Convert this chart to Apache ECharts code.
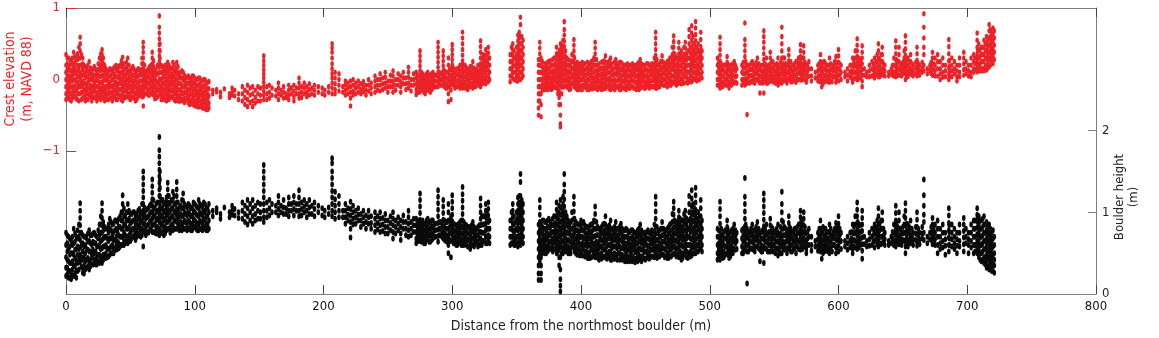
<!DOCTYPE html>
<html><head><meta charset="utf-8">
<script src="https://cdn.jsdelivr.net/npm/echarts@6/dist/echarts.min.js"></script>
<style>html,body{margin:0;padding:0;background:#fff}#c{width:1159px;height:338px}</style>
</head><body><div id="c"></div>
<script>
// Each row: [distance (m), value, value, ...]
const redA = [
[0,.35,.2,.1,0,-.1,-.2,-.28],[2,.3,.15,.05,-.05,-.15,-.25],[4,.25,.12,0,-.1,-.2,-.3],[6,.38,.2,.1,0,-.12,-.22],[8,.3,.1,-.02,-.15,-.27],
[10,.45,.3,.15,.05,-.08,-.2,-.3],[11,.59,.5,.4,.3,.2,.1,0,-.1,-.2],[12,.35,.2,.05,-.05,-.18,-.28],[14,.2,.08,-.05,-.15,-.25],[16,.15,.05,-.08,-.18,-.28],
[18,.25,.1,0,-.12,-.22],[20,.12,.02,-.1,-.2,-.3],[22,.18,.05,-.05,-.15,-.25],[24,.1,0,-.1,-.2,-.3],[26,.3,.15,.05,-.05,-.15,-.25],
[28,.42,.35,.25,.15,.05,-.05,-.15,-.25],[30,.2,.1,0,-.12,-.22,-.3],[32,.1,0,-.1,-.2,-.28],[34,.15,.05,-.08,-.18,-.26],[36,.12,0,-.1,-.2,-.3],
[38,.18,.05,-.05,-.15,-.25],[40,.15,.03,-.08,-.18,-.28],[42,.2,.08,-.04,-.14,-.24],[44,.31,.2,.1,0,-.1,-.2,-.3],[46,.15,.05,-.05,-.15,-.25],
[48,.3,.2,.1,0,-.1,-.2],[50,.12,0,-.1,-.2,-.28],[52,.18,.05,-.05,-.15,-.25],[54,.1,0,-.1,-.2,-.3],[56,.15,.05,-.05,-.15,-.24],[58,.1,-.02,-.12,-.22],
[60,.52,.45,.38,.3,.22,.15,.08,0,-.08,-.16,-.24,-.37],[62,.1,0,-.1,-.2],[64,.15,.05,-.05,-.15,-.22],[66,.2,.1,0,-.1,-.2],
[67,.38,.3,.22,.14,.06,-.02,-.1,-.18],[69,.1,0,-.1,-.2,-.27],[71,.2,.08,-.04,-.14,-.24],
[72.5,.89,.73,.65,.57,.49,.41,.33,.25,.17,.09,.01,-.07,-.15,-.22],[74,.2,.1,0,-.1,-.2,-.28],[76,.15,.05,-.05,-.15,-.25],[78,.2,.1,0,-.1,-.2,-.3],
[79,.24,.16,.08,0,-.08,-.16,-.24],[81,.15,.05,-.05,-.15,-.25],[83,.24,.15,.05,-.05,-.15,-.25],[85,.1,0,-.1,-.2,-.3],[86,.24,.16,.08,0,-.08,-.16,-.26],
[88,.05,-.05,-.15,-.25,-.3],[90,.12,.02,-.08,-.18,-.28],[91,.1,0,-.1,-.2,-.3],[93,.02,-.08,-.18,-.28],[95,.05,-.05,-.15,-.25,-.33],
[97,0,-.1,-.2,-.3],[99,.05,-.05,-.15,-.25,-.35],[101,0,-.1,-.2,-.3,-.36],[103,.02,-.08,-.18,-.28,-.38],[105,-.02,-.12,-.22,-.32],
[107,0,-.1,-.2,-.3,-.4],[109,-.05,-.15,-.25,-.35,-.42],[111,-.03,-.13,-.23,-.33,-.4],
[114,-.15,-.2],[117,-.14,-.17],[120,-.18,-.24],[123,-.13],[127,-.2,-.25],[129,-.12,-.18,-.22],[131,-.15,-.23],[134,-.2,-.28]
];
const redFillA = [
[1,.3,.22,.14,.06,-.02,-.1,-.18,-.26],[3,.28,.2,.12,.04,-.04,-.12,-.2,-.28],[5,.3,.22,.14,.06,-.02,-.1,-.18,-.26],[7,.32,.24,.16,.08,0,-.08,-.16,-.24],
[9,.36,.28,.2,.12,.04,-.04,-.12,-.2,-.28],[13,.3,.22,.14,.06,-.02,-.1,-.18,-.26],[15,.18,.1,.02,-.06,-.14,-.22,-.3],[17,.2,.12,.04,-.04,-.12,-.2,-.28],
[19,.16,.08,0,-.08,-.16,-.24],[21,.15,.07,-.01,-.09,-.17,-.25],[23,.14,.06,-.02,-.1,-.18,-.26],[25,.22,.14,.06,-.02,-.1,-.18,-.26],
[27,.36,.28,.2,.12,.04,-.04,-.12,-.2,-.28],[29,.3,.22,.14,.06,-.02,-.1,-.18,-.26],[31,.15,.07,-.01,-.09,-.17,-.25],[33,.12,.04,-.04,-.12,-.2,-.28],
[35,.14,.06,-.02,-.1,-.18,-.26],[37,.16,.08,0,-.08,-.16,-.24],[39,.2,.12,.04,-.04,-.12,-.2,-.28],[41,.18,.1,.02,-.06,-.14,-.22],
[43,.26,.18,.1,.02,-.06,-.14,-.22,-.28],[45,.22,.14,.06,-.02,-.1,-.18,-.26],[47,.24,.16,.08,0,-.08,-.16,-.24],[49,.2,.12,.04,-.04,-.12,-.2,-.26],
[51,.15,.07,-.01,-.09,-.17,-.25],[53,.14,.06,-.02,-.1,-.18,-.26],[55,.12,.04,-.04,-.12,-.2,-.28],[57,.14,.06,-.02,-.1,-.18],
[59,.3,.22,.14,.06,-.02,-.1,-.18,-.24],[61,.2,.12,.04,-.04,-.12,-.2],[63,.12,.04,-.04,-.12,-.2],[65,.18,.1,.02,-.06,-.14,-.22],
[68,.26,.18,.1,.02,-.06,-.14,-.22],[70,.14,.06,-.02,-.1,-.18,-.26],[73,.5,.4,.3,.2,.1,0,-.1,-.2],[75,.18,.1,.02,-.06,-.14,-.22,-.28],
[77,.2,.12,.04,-.04,-.12,-.2,-.28],[80,.2,.12,.04,-.04,-.12,-.2,-.28],[82,.16,.08,0,-.08,-.16,-.24],[84,.2,.12,.04,-.04,-.12,-.2,-.28],
[87,.18,.1,.02,-.06,-.14,-.22,-.3],[89,.1,.02,-.06,-.14,-.22,-.3],[92,.06,-.02,-.1,-.18,-.26,-.32],[94,.03,-.05,-.13,-.21,-.29],
[96,.02,-.06,-.14,-.22,-.3,-.35],[98,.05,-.03,-.11,-.19,-.27,-.34],[100,.02,-.06,-.14,-.22,-.3,-.37],[102,0,-.08,-.16,-.24,-.32,-.38],
[104,.02,-.06,-.14,-.22,-.3,-.38],[106,-.02,-.1,-.18,-.26,-.34,-.4],[108,0,-.08,-.16,-.24,-.32,-.4],[110,-.04,-.12,-.2,-.28,-.36,-.42]
];
const redB = [
[137,-.1,-.2,-.3],[139,-.15,-.25,-.35],[141,-.08,-.18,-.28,-.38],[143,-.12,-.22,-.32],[145,-.1,-.2,-.3,-.38],[147,-.15,-.25,-.33],
[149,-.1,-.2,-.3],[151,-.12,-.22,-.3],[153.6,.33,.26,.2,.14,.08,.02,-.04,-.1,-.16,-.22,-.28],[156,-.1,-.2,-.28],[158,-.08,-.18,-.26],
[160,-.12,-.22],[163,-.15,-.23],[165,-.05,-.12,-.2,-.28],[167,-.15,-.22],[169,-.1,-.18,-.26],[171,-.2,-.25],[173,-.08,-.15,-.22,-.28],
[175,-.12,-.2],[177,-.08,-.16,-.24,-.3],[179,-.12,-.2],[181,.02,-.05,-.12,-.2,-.26],[183,-.1,-.18,-.25],[185,-.05,-.12,-.2],
[187,-.1,-.18,-.24],[189,-.06,-.14,-.22],[191,-.12,-.2],[193,-.08,-.15,-.22],[196,-.1,-.18],[199,-.12,-.2],[201,-.15,-.22],[204,-.1,-.18],
[206.7,.5,.44,.38,.3,.22,.15,.08,.02,-.05,-.12,-.2],[209,.1,.02,-.06,-.14,-.2],[212,.08,0,-.08,-.16],[215,-.1,-.18],
[217,-.02,-.08,-.15,-.22],[219,-.05,-.12,-.2],[221,-.02,-.1,-.18,-.26,-.37],[223,0,-.08,-.16,-.22],[225,-.05,-.12,-.2],
[227,-.02,-.1,-.18],[229,-.06,-.14,-.2],[231,-.03,-.1,-.17],[233,-.08,-.15,-.22],[235,0,-.08,-.16],[237,-.05,-.12,-.2],
[240,.05,-.02,-.1,-.18],[242,0,-.08,-.15],[244,.08,0,-.08,-.16],[246,.02,-.06,-.14],[248,.1,.03,-.05,-.12],[250,-.02,-.1,-.18],
[252,.06,-.02,-.1],[254,.12,.05,-.03,-.1,-.18],[256,0,-.08,-.15],[258,.08,0,-.08],[260,.05,-.03,-.1,-.18],[262,.1,.02,-.06],
[264,.02,-.06,-.14],[266,.17,.1,.03,-.05,-.12],[268,0,-.08,-.16],[270,.08,0,-.08]
];
const redC = [
[272,.1,.02,-.06,-.14,-.21],[274,.05,-.03,-.1,-.18],[275,.4,.33,.26,.19,.12,.05,-.02,-.1,-.17],[277,.08,0,-.08,-.15],
[279,.02,-.06,-.14,-.2],[281,.1,.02,-.06,-.12],[283,.05,-.03,-.1,-.18],[285,.1,.03,-.05,-.12],[287,.06,-.02,-.1],
[289,.52,.45,.38,.31,.24,.17,.1,.03,-.04,-.1],[291,.08,0,-.08],[293,.4,.33,.26,.19,.12,.05,-.02,-.08],[295,.1,.02,-.06,-.12],
[297,.3,.2,.1,0,-.1,-.2,-.31],[299,.15,.05,-.05,-.15,-.28],[300,.49,.42,.35,.28,.21,.14,.07,0,-.07],[302,.12,.04,-.04,-.12],
[304,.15,.07,-.02,-.1],[306,.2,.12,.04,-.04,-.12],[308,.66,.58,.5,.42,.34,.26,.18,.1,.02,-.06,-.12],[310,.2,.12,.04,-.04,-.12],
[312,.15,.07,0,-.08,-.14],[314,.18,.1,.02,-.06,-.1],[316,.25,.15,.05,-.05,-.12],[318,.12,.04,-.04,-.1],[320,.2,.1,0,-.08],
[322,.54,.46,.38,.3,.22,.14,.06,-.02,-.1],[324,.35,.25,.15,.05,-.05],[326,.42,.34,.26,.18,.1,.02,-.06],[328,.45,.37,.29,.21,.13,.05,-.03],
[329,.3,.2,.1,0],
[345,.35,.25,.15,.05,-.03],[346,.45,.35,.25,.15,.05],[347,.5,.42,.34,.26,.18,.1,.02],[349,.3,.2,.1,0],
[351,.62,.54,.46,.38,.3,.22,.14,.06,-.02],[352,.66,.58,.5,.42,.34,.26,.18,.1,.02],[353,.87,.77,.6,.5,.4,.3,.2,.1,0],
[354,.6,.5,.4,.3,.2,.1,.02],[355,.55,.45,.35,.25,.15,.05],
[367,.28,.2,.1,0,-.1,-.2,-.3,-.4,-.5],[368,.52,.44,.36,.28,.2,.1,0,-.1,-.2,-.3],[369,.3,.2,.1,0,-.1,-.2,-.35,-.52],
[371,.15,.08,0,-.08,-.14],[373,.2,.12,.04,-.04,-.12],[375,.25,.15,.05,-.05,-.12],[377,.2,.1,0,-.08,-.14],[379,.3,.2,.1,0,-.1],
[381,.45,.36,.28,.2,.12,.04,-.04,-.12],[383,.4,.32,.24,.16,.08,0,-.08,-.16,-.25,-.35],
[384,.5,.42,.34,.26,.18,.1,.02,-.06,-.2,-.35,-.5,-.62,-.66],[386,.55,.47,.39,.31,.23,.15,.07,-.01,-.1],
[387,.81,.7,.62,.54,.46,.38,.3,.22,.14,.06,-.02,-.1],[389,.3,.2,.1,0,-.1],[391,.2,.1,0,-.1,-.14],[393,.35,.25,.15,.05,-.05],
[394.5,.56,.48,.4,.32,.24,.16,.08,0,-.08],[396,.2,.12,.04,-.04,-.12],[398,.18,.1,.02,-.06,-.14],[400,.2,.1,0,-.1,-.14],
[402,.22,.12,.02,-.08],[404,.15,.06,-.03,-.12]
];
const redFillC = [
[273,.06,-.02,-.1,-.18],[276,.1,.02,-.06,-.14],[278,.05,-.03,-.11,-.18],[280,.08,0,-.08,-.15],[282,.06,-.02,-.1,-.16],[284,.08,0,-.08,-.14],
[286,.06,-.02,-.1],[290,.1,.02,-.06],[292,.08,0,-.08],[294,.12,.04,-.04,-.1],[296,.1,.02,-.06,-.12],[298,.14,.06,-.02,-.1],[301,.16,.08,0,-.08],
[303,.14,.06,-.02,-.1],[305,.16,.08,0,-.08],[307,.2,.12,.04,-.04,-.1],[309,.2,.12,.04,-.04,-.1],[311,.16,.08,0,-.08],[313,.14,.06,-.02,-.1],
[315,.18,.1,.02,-.06],[317,.16,.08,0,-.08],[319,.14,.06,-.02],[321,.2,.12,.04,-.04],[323,.3,.2,.1,0,-.06],[325,.3,.2,.1,0],[327,.35,.25,.15,.05,-.03],
[348,.4,.3,.2,.1,0],[350,.45,.35,.25,.15,.05,-.02],
[370,.25,.17,.09,.01,-.07,-.15],[372,.22,.14,.06,-.02,-.1,-.14],[374,.24,.16,.08,0,-.08,-.14],[376,.26,.18,.1,.02,-.06,-.13],
[378,.28,.2,.12,.04,-.04,-.12],[380,.3,.22,.14,.06,-.02,-.1],[382,.35,.27,.19,.11,.03,-.05,-.13,-.2],[385,.45,.37,.29,.21,.13,.05,-.03,-.11,-.2],
[388,.4,.32,.24,.16,.08,0,-.08],[390,.28,.2,.12,.04,-.04,-.12],[392,.26,.18,.1,.02,-.06,-.13],[395,.3,.22,.14,.06,-.02,-.1],
[397,.24,.16,.08,0,-.08,-.14],[399,.22,.14,.06,-.02,-.1],[401,.24,.16,.08,0,-.08,-.14],[403,.22,.14,.06,-.02,-.1]
];
const redD = [
[406,.2,.1,0,-.1,-.14],[408,.25,.15,.05,-.05,-.13],[410,.3,.2,.1,0,-.1],[411,.52,.44,.36,.28,.2,.12,.04,-.04,-.12],
[413,.2,.1,0,-.1,-.14],[415,.15,.06,-.03,-.12],[417,.25,.15,.05,-.05,-.13],[419,.33,.24,.15,.06,-.03,-.12],[421,.2,.1,0,-.1],
[423,.3,.2,.1,0,-.1,-.14],[425,.15,.06,-.03,-.12],[427,.28,.18,.08,-.02,-.12],[429,.2,.1,0,-.1],[431,.24,.14,.04,-.06,-.14],
[433,.18,.08,-.02,-.12],[435,.2,.1,0,-.1,-.14],[437,.15,.05,-.05,-.12],[439,.2,.1,0,-.1],[441,.18,.08,-.02,-.12],[443,.15,.05,-.05,-.14],
[446,.28,.2,.12,.04,-.04,-.12],[448,.2,.1,0,-.1],[450,.15,.05,-.05,-.12],[452,.22,.12,.02,-.08],[454,.18,.08,-.02,-.1],[456,.2,.1,0,-.1],
[458,.66,.58,.5,.42,.34,.26,.18,.1,.02,-.06,-.12],[460,.2,.1,0,-.1],[462,.25,.15,.05,-.05],[463,.33,.25,.17,.09,.01,-.07],
[465,.2,.1,0,-.08],[467,.25,.15,.05,-.05,-.1],[469,.3,.2,.1,0,-.08],[471,.45,.35,.25,.15,.05,-.05],[472,.61,.53,.45,.37,.29,.21,.13,.05,-.03],
[474,.3,.2,.1,0,-.08],[476,.52,.44,.36,.28,.2,.12,.04,-.04],[478,.4,.3,.2,.1,0,-.06],[480,.45,.35,.25,.15,.05,-.05],
[481,.52,.44,.36,.28,.2,.12,.04],[483,.4,.3,.2,.1,0,-.05],[484,.7,.6,.5,.4,.3,.2,.1,0],[486,.75,.65,.55,.45,.35,.25,.15,.05,-.03],
[487,.6,.5,.4,.3,.2,.1,0],[489,.81,.72,.63,.54,.45,.36,.27,.18,.09,0],[491,.5,.4,.3,.2,.1,0],[493,.66,.56,.46,.36,.26,.16,.06],
[494,.4,.3,.2,.1,.02],
[506,.3,.2,.1,0,-.08],[508,.59,.5,.42,.34,.26,.18,.1,.02,-.06,-.12],[510,.15,.05,-.05,-.1],[512,.2,.1,0,-.08],
[513.5,.32,.24,.16,.08,0,-.08],[515,.15,.05,-.05,-.12],[517,.2,.1,0,-.08],[519,.25,.15,.05,-.05],[521,.15,.05,-.05],
[525,.2,.1,0,-.08],[527.3,.79,.56,.48,.4,.32,.24,.16,.08,0,-.08],[529,.2,.1,0,-.05,-.49],[531,.15,.05,-.05],[533,.25,.15,.05,-.03],
[535,.2,.1,0,-.05],[537,.3,.2,.1,0],[539,.15,.05,-.05,-.19],[541,.2,.1,0,-.05]
];
const redFillD = [
[405,.24,.16,.08,0,-.08,-.14],[407,.22,.14,.06,-.02,-.1],[409,.26,.18,.1,.02,-.06,-.13],[412,.28,.2,.12,.04,-.04,-.12],[414,.22,.14,.06,-.02,-.1],
[416,.24,.16,.08,0,-.08,-.14],[418,.26,.18,.1,.02,-.06,-.13],[420,.24,.16,.08,0,-.08],[422,.26,.18,.1,.02,-.06,-.13],[424,.22,.14,.06,-.02,-.1],
[426,.24,.16,.08,0,-.08,-.14],[428,.22,.14,.06,-.02,-.1],[430,.24,.16,.08,0,-.08,-.14],[432,.22,.14,.06,-.02,-.1],[434,.2,.12,.04,-.04,-.12],
[436,.22,.14,.06,-.02,-.1],[438,.2,.12,.04,-.04,-.12],[440,.22,.14,.06,-.02,-.1],[442,.2,.12,.04,-.04,-.12],[444,.22,.14,.06,-.02,-.1],
[445,.24,.16,.08,0,-.08,-.14],[447,.22,.14,.06,-.02,-.1],[449,.2,.12,.04,-.04,-.12],[451,.22,.14,.06,-.02,-.1],[453,.2,.12,.04,-.04,-.12],
[455,.22,.14,.06,-.02,-.1],[457,.3,.22,.14,.06,-.02,-.1],[459,.28,.2,.12,.04,-.04,-.12],[461,.22,.14,.06,-.02,-.1],[464,.24,.16,.08,0,-.08],
[466,.22,.14,.06,-.02,-.08],[468,.26,.18,.1,.02,-.06],[470,.3,.22,.14,.06,-.02,-.08],[473,.35,.27,.19,.11,.03,-.05],[475,.3,.22,.14,.06,-.02,-.06],
[477,.35,.27,.19,.11,.03,-.05],[479,.32,.24,.16,.08,0,-.05],[482,.35,.27,.19,.11,.03,-.04],[485,.45,.37,.29,.21,.13,.05,-.03],
[488,.5,.42,.34,.26,.18,.1,.02],[490,.45,.37,.29,.21,.13,.05,-.02],[492,.4,.32,.24,.16,.08,0],
[507,.24,.16,.08,0,-.08],[509,.22,.14,.06,-.02,-.1],[511,.2,.12,.04,-.04],[514,.22,.14,.06,-.02,-.08],[516,.2,.12,.04,-.04],[518,.22,.14,.06,-.02],
[520,.2,.12,.04,-.04],[526,.24,.16,.08,0,-.06],[528,.25,.17,.09,.01,-.06],[530,.2,.12,.04,-.04],[532,.22,.14,.06,-.02],[534,.2,.12,.04,-.04],
[536,.24,.16,.08,0],[538,.22,.14,.06,-.02],[540,.2,.12,.04,-.04]
];
const redE = [
[542,.68,.6,.52,.44,.36,.28,.2,.12,.04,-.04,-.19],[544,.3,.2,.1,0,-.05],[545,.15,.05,-.05],[547,.38,.3,.22,.14,.06,-.02],
[549,.25,.15,.05,-.03],[551,.2,.1,0,-.05],[553,.3,.2,.1,0,-.08],[554,.15,.05,-.05],[556,.73,.6,.5,.4,.3,.2,.1,0,-.05],
[558,.3,.2,.1,0],[560,.2,.1,0,-.05],[561.4,.42,.34,.26,.18,.1,.02],[563,.25,.15,.05,-.03],[565,.2,.1,0],[567,.25,.15,.05,-.04],
[569,.3,.2,.1,0],[570.5,.49,.4,.32,.24,.16,.08,0],[572,.3,.2,.1,0],[573,.47,.38,.3,.22,.14,.06],[575,.2,.1,0,-.04],
[577,.25,.15,.05],[579,.15,.05,-.02],[582,.1,.02],[584,.2,.12,.04,-.02],[586,.35,.25,.15,.05,-.03],[587,.2,.1,0,-.1],
[589,.25,.15,.05,-.03],[591,.2,.12,.04,-.02],[593,.3,.2,.1,0,-.04],[595,.15,.05,-.03],[597,.25,.15,.05],[598,.32,.22,.12,.02,-.04],
[600,.42,.33,.24,.15,.06,-.02],[602,.2,.1,0],[605,.1,.04],[607,.15,.06,-.02],[609,.2,.1,.03],[611,.3,.2,.1,0,-.04],
[613,.4,.3,.2,.1,.02],[614.5,.57,.48,.4,.32,.24,.16,.08,0],[616,.3,.2,.1,.02],[618.4,.47,.38,.3,.22,.14,.06,-.02,-.1],
[620,.15,.06],[622,.1,.04],[624,.2,.12,.04],[626,.25,.15,.05],[628,.3,.2,.1,.02],[630,.35,.25,.15,.06],[631,.5,.4,.3,.2,.1,.04],
[633,.35,.25,.15,.06],[634,.45,.35,.25,.15,.08],[636,.2,.12,.05],[639,.1,.05],[641,.15,.08],[643,.3,.2,.1,.05],
[644.5,.54,.45,.36,.27,.18,.1,.04],[647,.45,.35,.25,.15,.06],[649,.2,.12,.05],[651,.4,.3,.2,.1],[652,.61,.52,.43,.34,.25,.16,.08,0],
[654,.3,.2,.1,.04],[656,.35,.25,.15,.08],[658,.2,.12,.05],[661,.45,.36,.27,.18,.1,.05],[663,.2,.12,.06],
[666.3,.92,.73,.58,.45,.35,.2,.12],[669,.15,.08],[671,.2,.12],[673,.38,.3,.22,.14,.06],[675,.3,.2,.12,.05],
[677,.35,.25,.15,.05],[679,.25,.15,.08,0],[681,.3,.2,.1,.03],[683,.2,.12,.04],[685.7,.56,.46,.36,.26,.16,.08,0],
[688,.3,.2,.12,.04],[690,.25,.15,.08],[692,.2,.12,.04,-.02],[694,.3,.2,.1,.04],[697.3,.38,.3,.22,.14,.06],[699,.25,.15,.08],
[701,.2,.12,.05],[703,.3,.2,.1,.04],[705,.35,.25,.15,.1],[707.7,.65,.55,.45,.35,.25,.15,.11],[709,.5,.4,.3,.2,.12],
[711,.45,.35,.25,.15,.12],[713,.55,.45,.35,.25,.15,.12],[715,.6,.5,.4,.3,.2,.13],[717,.77,.68,.58,.48,.38,.28,.18],
[718,.7,.6,.5,.4,.3,.2],[720,.72,.62,.52,.42,.32,.22],[721,.68,.58,.48,.38,.28]
];
const redFillE = [
[543,.22,.14,.06,-.02],[546,.2,.12,.04,-.03],[548,.24,.16,.08,0],[550,.2,.12,.04,-.03],[552,.22,.14,.06,-.02],[555,.24,.16,.08,0,-.04],
[557,.3,.22,.14,.06,-.02],[559,.22,.14,.06,-.02],[562,.24,.16,.08,0],[564,.2,.12,.04,-.03],[566,.22,.14,.06,-.02],[568,.24,.16,.08,0],
[571,.3,.22,.14,.06,-.01],[574,.24,.16,.08,0],[576,.2,.12,.04],[585,.22,.14,.06,-.02],[588,.24,.16,.08,0,-.06],[590,.22,.14,.06,-.02],
[592,.2,.12,.04,-.03],[594,.22,.14,.06,-.02],[596,.2,.12,.04],[599,.24,.16,.08,0],[601,.22,.14,.06],[610,.2,.12,.04],[612,.25,.17,.09,.01],
[615,.3,.22,.14,.06,0],[617,.26,.18,.1,.02],[627,.22,.14,.06],[629,.24,.16,.08],[632,.28,.2,.12,.04],[635,.22,.14,.06],[642,.2,.12,.06],
[645,.28,.2,.12,.05],[646,.24,.16,.08],[648,.22,.14,.06],[650,.24,.16,.08],[653,.28,.2,.12,.05],[655,.24,.16,.08],[657,.22,.14,.07],
[660,.24,.16,.08],[662,.22,.14,.07],[665,.24,.16,.1],[672,.24,.16,.08],[674,.22,.14,.06],[686,.26,.18,.1,.03],[706,.3,.22,.14],
[708,.4,.3,.2,.12],[710,.42,.32,.22,.14],[712,.45,.35,.25,.15],[714,.5,.4,.3,.18],[716,.55,.45,.35,.25,.16],[719,.65,.55,.45,.35,.25]
];
const blackA = [
[0,.75,.6,.45,.32,.22],[2,.7,.55,.4,.28,.2],[4,.65,.5,.38,.25,.18],[6,.8,.62,.48,.35,.22],[8,.7,.55,.4,.28,.2],
[10,.85,.7,.55,.42,.3],[11,1.11,1.02,.93,.84,.75,.66,.57,.48,.39],[12,.75,.6,.45,.33],[14,.7,.58,.45,.35,.25],[16,.68,.55,.42,.32],
[18,.78,.65,.52,.4,.3],[20,.72,.6,.48,.36],[22,.75,.62,.5,.38],[24,.7,.58,.46,.36],[26,.85,.72,.6,.48,.38],
[28,1.11,1.02,.93,.84,.75,.66,.56,.46,.38],[30,.82,.7,.58,.46],[32,.8,.68,.56,.45],[34,.92,.8,.68,.56,.48],[36,.85,.72,.6,.5],
[38,.9,.78,.66,.54],[40,.88,.76,.64,.55],[42,.95,.82,.7,.58],[44,1.21,1.1,1,.9,.8,.7,.6],[46,.95,.84,.72,.62],
[48,1.1,1,.9,.8,.7,.62],[50,.98,.86,.75,.65],[52,1,.9,.8,.7],[54,.95,.85,.75,.66],[56,1.02,.92,.82,.72],[58,.98,.88,.78,.7],
[60,1.5,1.42,1.34,1.26,1.18,1.1,1.02,.94,.86,.78,.58],[62,1.02,.92,.82,.72],[64,1.05,.95,.85,.75],[66,1.1,1,.9,.8],
[67,1.4,1.32,1.24,1.16,1.08,1,.92,.84,.76],[69,1.05,.95,.85,.75],[71,1.12,1.02,.92,.82,.74],
[72.5,1.92,1.76,1.68,1.6,1.52,1.44,1.36,1.28,1.2,1.12,1.04,.96,.88,.8,.72],[74,1.15,1.05,.95,.85,.75],[76,1.1,1,.9,.8,.72],
[78,1.18,1.08,.98,.88,.78],[79,1.36,1.28,1.2,1.12,1.04,.96,.88,.8],[81,1.12,1.02,.92,.82,.75],[83,1.25,1.15,1.05,.95,.85,.78],
[85,1.1,1,.9,.8],[86,1.37,1.28,1.2,1.12,1.04,.96,.88,.8],[88,1.05,.95,.85,.78],[90,1.15,1.05,.95,.85,.78],
[91,1.23,1.14,1.05,.96,.87,.8],[93,1.08,.98,.88,.8],[95,1.1,1,.9,.8],[97,1.05,.95,.85,.78],[99,1.12,1.02,.92,.82],
[101,1.08,.98,.88,.8],[103,1.15,1.05,.95,.85,.78],[105,1.08,.98,.88,.8],[107,1.12,1.02,.92,.82],[109,1.05,.95,.85,.78],[111,1.1,1,.9,.8],
[114,1.02,.95],[117,1.05,1],[120,.98,.92],[123,1.06],[127,1,.94],[129,1.08,1.02,.97],[131,1.04,.96],[134,1,.93]
];
const blackFillA = [
[1,.72,.62,.52,.42,.32,.24],[3,.68,.58,.48,.38,.28,.2],[5,.7,.6,.5,.4,.3,.22],[7,.74,.64,.54,.44,.34,.25],[9,.78,.68,.58,.48,.38,.28],
[13,.72,.62,.52,.42,.32,.26],[15,.7,.6,.5,.4,.3],[17,.74,.64,.54,.44,.34],[19,.72,.62,.52,.42,.34],[21,.74,.64,.54,.44,.36],
[23,.72,.62,.52,.42,.36],[25,.78,.68,.58,.48,.4],[27,.95,.85,.75,.65,.55,.45,.4],[29,.88,.78,.68,.58,.48,.42],[31,.8,.7,.6,.5,.44],
[33,.85,.75,.65,.55,.46],[35,.88,.78,.68,.58,.5],[37,.86,.76,.66,.56,.5],[39,.9,.8,.7,.6,.54],[41,.92,.82,.72,.62,.56],
[43,1,.9,.8,.7,.6],[45,1.05,.95,.85,.75,.65,.6],[47,1,.9,.8,.7,.64],[49,1.02,.92,.82,.72,.66],[51,.98,.88,.78,.68],[53,1,.9,.8,.72],
[55,.98,.88,.78,.7],[57,1.04,.94,.84,.74],[59,1.1,1,.9,.8,.72],[61,1.06,.96,.86,.76],[63,1.04,.94,.84,.76],[65,1.08,.98,.88,.78],
[68,1.15,1.05,.95,.85,.76],[70,1.1,1,.9,.8,.74],[73,1.5,1.4,1.3,1.2,1.1,1,.9,.8,.74],[75,1.15,1.05,.95,.85,.75],[77,1.12,1.02,.92,.82,.74],
[80,1.2,1.1,1,.9,.8],[82,1.15,1.05,.95,.85,.78],[84,1.2,1.1,1,.9,.8],[87,1.12,1.02,.92,.82],[89,1.08,.98,.88,.8],[92,1.1,1,.9,.8],
[94,1.06,.96,.86,.78],[96,1.08,.98,.88,.8],[98,1.06,.96,.86,.78],[100,1.1,1,.9,.82],[102,1.06,.96,.86,.78],[104,1.1,1,.9,.8],
[106,1.06,.96,.86,.78],[108,1.1,1,.9,.8],[110,1.05,.95,.85,.78]
];
const blackB = [
[137,1.12,1.02,.92],[139,1.08,.98,.88],[141,1.15,1.05,.95,.85],[143,1.1,1,.9],[145,1.15,1.05,.95,.86],[147,1.08,.98,.9],
[149,1.12,1.02,.92],[151,1.1,1,.92],[153.6,1.58,1.5,1.42,1.34,1.26,1.18,1.1,1.02,.94,.88],[156,1.12,1.02,.94],[158,1.15,1.05,.96],
[160,1.1,1],[163,1.08,1],[165,1.2,1.12,1.04,.96],[167,1.08,1],[169,1.15,1.06,.98],[171,1.05,.98],[173,1.18,1.1,1.02,.95],
[175,1.1,1.02],[177,1.2,1.12,1.04,.96],[179,1.1,1.02],[181,1.27,1.18,1.1,1.02,.95],[183,1.12,1.04,.96],[185,1.15,1.07,1],
[187,1.1,1.02,.94],[189,1.15,1.06,.98],[191,1.08,.98],[193,1.12,1.04,.95],[196,1.08,1],[199,1.05,.96],[201,1.02,.94],[204,1.06,.98],
[206.7,1.66,1.6,1.5,1.42,1.34,1.26,1.18,1.1,1.02,.95],[209,1.25,1.16,1.08,1,.92],[212,1.2,1.1,1.02,.94],[215,1.02,.94],
[217,1.1,1.02,.94,.86],[219,1.05,.97,.9],[221,1.13,1.04,.96,.88,.8,.69],[223,1.08,1,.92,.85],[225,1.02,.94,.86],
[227,1.05,.97,.9],[229,.98,.9,.82],[231,1.02,.94,.86],[233,.96,.88,.8],[235,1.02,.94,.86],[237,.95,.87,.8],
[240,1,.92,.84,.76],[242,.95,.87,.79],[244,1,.92,.84,.76],[246,.93,.85,.77],[248,.98,.9,.82,.74],[250,.9,.82,.74],
[252,.95,.87,.78],[254,1,.92,.84,.76,.68],[256,.9,.82,.74],[258,.94,.86,.78],[260,.9,.82,.74,.66],[262,.96,.88,.8],
[264,.88,.8,.72],[266,1.02,.94,.86,.78,.7],[268,.88,.8,.72],[270,.92,.84,.76]
];
const blackC = [
[272,.92,.84,.76,.68,.62],[274,.88,.8,.72,.65],[275,1.23,1.15,1.07,.99,.91,.83,.75,.67],[277,.9,.82,.74,.66],
[279,.85,.77,.69,.62],[281,.92,.84,.76,.68],[283,.88,.8,.72,.64],[285,.9,.82,.74,.68],[287,.86,.78,.7],
[289,1.27,1.19,1.11,1.03,.95,.87,.79,.71,.64],[291,.88,.8,.72],[293,1.15,1.07,.99,.91,.83,.75,.68],[295,.88,.8,.72,.65],
[297,1.1,1,.9,.8,.7,.6,.5],[299,.95,.85,.75,.65,.45],[300,1.21,1.13,1.05,.97,.89,.81,.73,.66],[302,.85,.77,.69,.62],
[304,.82,.74,.66,.6],[306,.88,.8,.72,.64],[308,1.31,1.22,1.14,1.06,.98,.9,.82,.74,.66,.6],[310,.85,.77,.69,.62],
[312,.82,.74,.66,.58],[314,.8,.72,.64,.55],[316,.88,.78,.68,.6],[318,.78,.7,.62],[320,.82,.72,.64,.58],
[322,1.17,1.08,1,.92,.84,.76,.68,.6],[324,.95,.85,.75,.65],[326,1.1,1.02,.94,.86,.78,.7,.62],[328,1.12,1.04,.96,.88,.8,.72,.64],
[329,.9,.8,.7,.62],
[345,.9,.8,.7,.6],[346,1,.9,.8,.7,.62],[347,1.1,1.02,.94,.86,.78,.7,.62],[349,.88,.78,.68,.6],
[351,1.18,1.1,1.02,.94,.86,.78,.7,.62,.58],[352,1.2,1.12,1.04,.96,.88,.8,.72,.64],[353,1.47,1.37,1.2,1.1,1,.9,.8,.7,.6],
[354,1.15,1.05,.95,.85,.75,.65],[355,1.1,1,.9,.8,.7,.62],
[367,.85,.75,.65,.55,.45,.35,.25,.17],[368,1.15,1.06,.97,.88,.79,.7,.6,.5,.4],[369,.85,.75,.65,.55,.45,.35,.25,.17],
[371,.9,.8,.7,.6,.52],[373,.88,.78,.68,.58,.5],[375,.92,.82,.72,.62,.54],[377,.85,.75,.65,.55],[379,.95,.85,.75,.65,.55],
[381,1.12,1.03,.94,.85,.76,.67,.58,.5],[383,1.08,.99,.9,.81,.72,.63,.54,.45,.35],
[384,1.15,1.06,.97,.88,.79,.7,.6,.45,.3,.18,.1,.03],[386,1.19,1.1,1.01,.92,.83,.74,.65,.56,.5],
[387,1.47,1.34,1.25,1.16,1.07,.98,.89,.8,.71,.62,.54],[389,.95,.85,.75,.65,.55],[391,.85,.75,.65,.55,.5],[393,1,.9,.8,.7,.6],
[394.5,1.19,1.1,1.01,.92,.83,.74,.65,.56],[396,.88,.78,.68,.58,.5],[398,.85,.75,.65,.55],[400,.9,.8,.7,.6,.52],
[402,.88,.78,.68,.58],[404,.82,.72,.62,.52]
];
const blackFillC = [
[273,.9,.82,.74,.66],[276,.88,.8,.72,.64],[278,.86,.78,.7,.62],[280,.9,.82,.74,.66],[282,.88,.8,.72,.64],[284,.9,.82,.74,.66],
[286,.86,.78,.7],[290,.88,.8,.72],[292,.86,.78,.7],[294,.9,.82,.74,.66],[296,.88,.8,.72,.64],[298,.9,.82,.74,.66],[301,.86,.78,.7,.62],
[303,.84,.76,.68,.6],[305,.86,.78,.7,.62],[307,.9,.82,.74,.66,.6],[309,.88,.8,.72,.64,.6],[311,.84,.76,.68,.6],[313,.82,.74,.66,.58],
[315,.84,.76,.68,.6],[317,.82,.74,.66,.58],[319,.8,.72,.64],[321,.84,.76,.68,.6],[323,.95,.85,.75,.65,.6],[325,.95,.85,.75,.65],
[327,1,.9,.8,.7,.62],[348,.95,.85,.75,.65,.6],[350,1,.9,.8,.7,.62],
[370,.9,.82,.74,.66,.58,.5],[372,.88,.8,.72,.64,.56,.5],[374,.9,.82,.74,.66,.58,.52],[376,.88,.8,.72,.64,.56],[378,.92,.84,.76,.68,.6,.52],
[380,.95,.87,.79,.71,.63,.55],[382,1,.92,.84,.76,.68,.6,.52],[385,1.05,.97,.89,.81,.73,.65,.57,.5],[388,1,.92,.84,.76,.68,.6,.52],
[390,.9,.82,.74,.66,.58,.5],[392,.88,.8,.72,.64,.56,.5],[395,.92,.84,.76,.68,.6,.52],[397,.86,.78,.7,.62,.54,.48],
[399,.85,.77,.69,.61,.53,.47],[401,.86,.78,.7,.62,.54,.47],[403,.84,.76,.68,.6,.52,.46]
];
const blackD = [
[406,.8,.7,.6,.5,.44],[408,.85,.75,.65,.55,.45],[410,.9,.8,.7,.6,.5],[411,1.07,.98,.89,.8,.71,.62,.53,.45],
[413,.82,.72,.62,.52,.44],[415,.78,.68,.58,.48],[417,.85,.75,.65,.55,.45],[419,.95,.85,.75,.65,.55,.45],[421,.8,.7,.6,.5],
[423,.9,.8,.7,.6,.5,.42],[425,.78,.68,.58,.48],[427,.88,.78,.68,.58,.46],[429,.8,.7,.6,.5],[431,.86,.76,.66,.56,.45],
[433,.78,.68,.58,.46],[435,.8,.7,.6,.5,.42],[437,.75,.65,.55,.45],[439,.78,.68,.58,.48],[441,.76,.66,.56,.44],[443,.72,.62,.52,.42],
[446,.85,.75,.65,.55,.45],[448,.75,.65,.55,.45],[450,.72,.62,.52,.42],[452,.78,.68,.58,.48],[454,.74,.64,.54,.45],[456,.76,.66,.56,.46],
[458,1.19,1.1,1.01,.92,.83,.74,.65,.56,.47],[460,.76,.66,.56,.46],[462,.8,.7,.6,.5],[463,.88,.8,.72,.64,.56,.48],
[465,.75,.65,.55,.45],[467,.8,.7,.6,.5,.44],[469,.85,.75,.65,.55,.46],[471,.98,.88,.78,.68,.58,.48],
[472,1.13,1.05,.97,.89,.81,.73,.65,.57,.49],[474,.85,.75,.65,.55,.46],[476,1.02,.94,.86,.78,.7,.62,.54,.45],
[478,.9,.8,.7,.6,.5,.42],[480,.98,.88,.78,.68,.58,.48],[481,1.02,.94,.86,.78,.7,.62,.54],[483,.9,.8,.7,.6,.5,.44],
[484,1.2,1.1,1,.9,.8,.7,.6,.5],[486,1.27,1.17,1.07,.97,.87,.77,.67,.57,.47],[487,1.1,1,.9,.8,.7,.6,.5],
[489,1.3,1.21,1.12,1.03,.94,.85,.76,.67,.58,.5],[491,1,.9,.8,.7,.6,.52],[493,1.15,1.05,.95,.85,.75,.65,.56],[494,.9,.8,.7,.6,.52],
[506,.8,.7,.6,.5,.42],[508,1.13,1.04,.95,.86,.77,.68,.6,.5,.42],[510,.72,.62,.52,.44],[512,.78,.68,.58,.48],
[513.5,.9,.82,.74,.66,.58,.5],[515,.74,.64,.54,.44],[517,.78,.68,.58,.5],[519,.85,.75,.65,.55],[521,.75,.65,.55],
[525,.78,.68,.58,.5],[527.3,1.42,1.19,1.1,1.01,.92,.83,.74,.65,.56],[529,.8,.7,.6,.52,.13],[531,.75,.65,.55],
[533,.85,.75,.65,.55],[535,.78,.68,.58,.52],[537,.88,.78,.68,.58],[539,.74,.64,.54,.4],[541,.78,.68,.58,.52]
];
const blackFillD = [
[405,.82,.74,.66,.58,.5,.44],[407,.84,.76,.68,.6,.52,.44],[409,.86,.78,.7,.62,.54,.46],[412,.88,.8,.72,.64,.56,.48],[414,.8,.72,.64,.56,.48,.42],
[416,.82,.74,.66,.58,.5,.43],[418,.86,.78,.7,.62,.54,.46],[420,.82,.74,.66,.58,.5,.43],[422,.84,.76,.68,.6,.52,.44],[424,.8,.72,.64,.56,.48,.42],
[426,.82,.74,.66,.58,.5,.43],[428,.8,.72,.64,.56,.48,.42],[430,.82,.74,.66,.58,.5,.42],[432,.8,.72,.64,.56,.48,.42],[434,.78,.7,.62,.54,.46,.4],
[436,.78,.7,.62,.54,.46,.4],[438,.76,.68,.6,.52,.44,.4],[440,.78,.7,.62,.54,.46,.4],[442,.75,.67,.59,.51,.43,.39],[444,.78,.7,.62,.54,.46,.4],
[445,.8,.72,.64,.56,.48,.42],[447,.78,.7,.62,.54,.46,.4],[449,.75,.67,.59,.51,.43],[451,.76,.68,.6,.52,.44],[453,.75,.67,.59,.51,.43],
[455,.78,.7,.62,.54,.46],[457,.85,.77,.69,.61,.53,.45],[459,.82,.74,.66,.58,.5,.44],[461,.78,.7,.62,.54,.46],[464,.8,.72,.64,.56,.48],
[466,.78,.7,.62,.54,.46],[468,.82,.74,.66,.58,.5,.44],[470,.86,.78,.7,.62,.54,.46],[473,.9,.82,.74,.66,.58,.5],[475,.88,.8,.72,.64,.56,.48],
[477,.92,.84,.76,.68,.6,.52,.45],[479,.9,.82,.74,.66,.58,.5,.44],[482,.92,.84,.76,.68,.6,.52,.45],[485,1,.92,.84,.76,.68,.6,.52,.46],
[488,1.05,.97,.89,.81,.73,.65,.57,.5],[490,1,.92,.84,.76,.68,.6,.52],[492,.95,.87,.79,.71,.63,.55],
[507,.78,.7,.62,.54,.46],[509,.8,.72,.64,.56,.48],[511,.76,.68,.6,.52,.45],[514,.8,.72,.64,.56,.48],[516,.76,.68,.6,.52,.46],[518,.8,.72,.64,.56,.5],
[520,.78,.7,.62,.54],[526,.8,.72,.64,.56,.5],[528,.85,.77,.69,.61,.53],[530,.76,.68,.6,.52],[532,.8,.72,.64,.56],[534,.78,.7,.62,.54],
[536,.82,.74,.66,.58],[538,.8,.72,.64,.56],[540,.76,.68,.6,.52]
];
const blackE = [
[542,1.23,1.15,1.07,.99,.91,.83,.75,.67,.58,.38],[544,.85,.75,.65,.55],[545,.72,.62,.52],[547,.92,.84,.76,.68,.6,.52],
[549,.8,.7,.6,.52],[551,.75,.65,.55,.5],[553,.85,.75,.65,.55,.47],[554,.72,.62,.52],[556,1.25,1.1,1,.9,.8,.7,.6,.5],
[558,.82,.72,.62,.54],[560,.76,.66,.56,.5],[561.4,.95,.87,.79,.71,.63,.55],[563,.8,.7,.6,.52],[565,.75,.65,.55],
[567,.8,.7,.6,.5],[569,.85,.75,.65,.55],[570.5,1.02,.94,.86,.78,.7,.62,.54],[572,.85,.75,.65,.55],[573,1,.92,.84,.76,.68,.6],
[575,.75,.65,.55,.5],[577,.8,.7,.6],[579,.7,.6,.53],[582,.65,.58],[584,.75,.67,.59,.53],[586,.9,.8,.7,.6,.52],
[587,.75,.65,.55,.43],[589,.8,.7,.6,.52],[591,.75,.67,.59,.53],[593,.85,.75,.65,.55,.5],[595,.7,.6,.52],[597,.8,.7,.6],
[598,.87,.77,.67,.57,.5],[600,.95,.86,.77,.68,.59,.52],[602,.75,.65,.55],[605,.65,.58],[607,.7,.62,.54],[609,.75,.65,.57],
[611,.85,.75,.65,.55,.5],[613,.95,.85,.75,.65,.57],[614.5,1.12,1.03,.95,.87,.79,.71,.63,.55],[616,.85,.75,.65,.57],
[618.4,1.02,.93,.85,.77,.69,.61,.53,.43],[620,.7,.61],[622,.65,.58],[624,.75,.67,.59],[626,.8,.7,.6],[628,.85,.75,.65,.57],
[630,.9,.8,.7,.61],[631,1.05,.95,.85,.75,.65,.58],[633,.9,.8,.7,.61],[634,1,.9,.8,.7,.62],[636,.75,.67,.6],[639,.65,.6],
[641,.7,.62],[643,.85,.75,.65,.6],[644.5,1.08,.99,.9,.81,.72,.64,.58],[647,1,.9,.8,.7,.61],[649,.75,.67,.6],[651,.95,.85,.75,.65],
[652,1.11,1.02,.93,.84,.75,.66,.58,.5],[654,.85,.75,.65,.58],[656,.9,.8,.7,.62],[658,.75,.67,.6],[661,1,.91,.82,.73,.64,.59],
[663,.75,.67,.61],[666.3,1.4,1.21,1.08,.97,.88,.75,.66],[669,.7,.62],[671,.75,.67],[673,.93,.85,.77,.69,.61],[675,.85,.75,.67,.6],
[677,.9,.8,.7,.6,.5],[679,.8,.7,.62,.55],[681,.85,.75,.65,.57],[683,.75,.67,.59,.48],[685.7,1.05,.96,.87,.78,.69,.6,.52],
[688,.85,.75,.67,.58],[690,.8,.7,.62,.55],[692,.75,.67,.59,.5],[694,.85,.75,.65,.58],[697.3,.93,.85,.77,.69,.61,.52],
[699,.8,.7,.62],[701,.75,.67,.6,.5],[703,.85,.75,.65,.57],[705,.9,.8,.7,.6,.5],[707.7,1.05,.97,.89,.81,.73,.65,.57,.5],
[709,.95,.85,.75,.65,.55,.45],[711,.9,.8,.7,.6,.5,.4],[713,.95,.85,.75,.65,.55,.45,.38],[715,.88,.78,.68,.58,.48,.4,.32],
[717,.85,.75,.65,.55,.45,.35,.3],[718,.8,.7,.6,.5,.4,.32],[720,.78,.68,.58,.48,.38,.28],[721,.7,.6,.5,.42,.35,.26]
];
const blackFillE = [
[543,.8,.72,.64,.56],[546,.76,.68,.6,.52],[548,.82,.74,.66,.58],[550,.76,.68,.6,.52],[552,.8,.72,.64,.56],[555,.82,.74,.66,.58,.5],
[557,.88,.8,.72,.64,.56],[559,.8,.72,.64,.56],[562,.82,.74,.66,.58],[564,.76,.68,.6,.52],[566,.8,.72,.64,.56],[568,.82,.74,.66,.58],
[571,.88,.8,.72,.64,.56],[574,.82,.74,.66,.58],[576,.76,.68,.6],[585,.8,.72,.64,.56],[588,.82,.74,.66,.58,.5],[590,.8,.72,.64,.56],
[592,.76,.68,.6,.52],[594,.8,.72,.64,.56],[596,.76,.68,.6],[599,.82,.74,.66,.58],[601,.8,.72,.64],[610,.76,.68,.6],[612,.82,.74,.66,.58],
[615,.88,.8,.72,.64,.58],[617,.84,.76,.68,.6],[627,.8,.72,.64],[629,.82,.74,.66],[632,.86,.78,.7,.62],[635,.8,.72,.64],[642,.76,.68,.62],
[645,.86,.78,.7,.62],[646,.82,.74,.66],[648,.8,.72,.64],[650,.82,.74,.66],[653,.86,.78,.7,.62],[655,.82,.74,.66],[657,.8,.72,.65],
[660,.82,.74,.66],[662,.8,.72,.65],[665,.82,.74,.68],[672,.82,.74,.66],[674,.8,.72,.64],[686,.84,.76,.68,.6],[706,.9,.8,.7,.6,.52],
[708,.92,.82,.72,.62,.52],[710,.9,.8,.7,.6,.5,.42],[712,.92,.82,.72,.62,.52,.42],[714,.85,.75,.65,.55,.45,.36],[716,.82,.72,.62,.52,.42,.33],
[719,.75,.65,.55,.45,.35,.28]
];
const xTicks = [0,100,200,300,400,500,600,700,800];
const leftTicks = [-1,0,1];
const rightTicks = [0,1,2];

function flatten(rows){const out=[];rows.forEach(r=>{for(let i=1;i<r.length;i++)out.push([r[0],r[i]]);});return out;}
const redPts = flatten([].concat(redA,redFillA,redB,redC,redFillC,redD,redFillD,redE,redFillE));
const blackPts = flatten([].concat(blackA,blackFillA,blackB,blackC,blackFillC,blackD,blackFillD,blackE,blackFillE));

const FONT = "'Liberation Sans Narrow','DejaVu Sans Condensed','Roboto',sans-serif";
const RED = '#ec2228';
const AX = '#7f7f7f';
const chart = echarts.init(document.getElementById('c'), null, {renderer:'canvas'});
chart.setOption({
  animation:false,
  backgroundColor:'#fff',
  grid:{left:66,right:63,top:8,bottom:44,containLabel:false},
  xAxis:[{
    type:'value',min:0,max:800,interval:100,position:'bottom',
    axisLine:{show:true,onZero:false,lineStyle:{color:AX,width:1}},
    axisTick:{show:true,inside:true,length:9,lineStyle:{color:'#444'}},
    axisLabel:{color:'#111',fontSize:13,fontFamily:FONT,margin:6,customValues:xTicks},
    splitLine:{show:false},
    name:'Distance from the northmost boulder (m)',nameLocation:'middle',nameGap:25,
    nameTextStyle:{color:'#222',fontSize:14,fontFamily:FONT}
  },{
    type:'value',min:0,max:800,interval:100,position:'top',
    axisLine:{show:true,onZero:false,lineStyle:{color:AX,width:1}},
    axisTick:{show:true,inside:true,length:9,lineStyle:{color:'#444'}},
    axisLabel:{show:false},splitLine:{show:false}
  }],
  yAxis:[{
    type:'value',min:-3,max:1,interval:1,position:'left',
    axisLine:{show:true,onZero:false,lineStyle:{color:AX,width:1}},
    axisTick:{show:true,inside:true,length:10,customValues:leftTicks,lineStyle:{color:RED}},
    axisLabel:{color:RED,fontSize:13,fontFamily:FONT,margin:6,customValues:leftTicks,
      formatter:v=>v<0?'\u2212'+Math.abs(v):String(v)},
    splitLine:{show:false}
  },{
    type:'value',min:0,max:3.5,interval:0.5,position:'right',
    axisLine:{show:true,onZero:false,lineStyle:{color:AX,width:1}},
    axisTick:{show:true,inside:true,length:8,customValues:rightTicks,lineStyle:{color:AX}},
    axisLabel:{color:'#222',fontSize:13,fontFamily:FONT,margin:6,customValues:rightTicks},
    splitLine:{show:false}
  }],
  graphic:[
    {type:'text',x:19,y:79,rotation:Math.PI/2,
     style:{text:'Crest elevation\n(m, NAVD 88)',fill:RED,font:'14px '+FONT,align:'center',verticalAlign:'middle',lineHeight:17}},
    {type:'text',x:1127,y:197,rotation:Math.PI/2,
     style:{text:'Boulder height\n(m)',fill:'#222',font:'13px '+FONT,align:'center',verticalAlign:'middle',lineHeight:14}}
  ],
  series:[
    {type:'scatter',name:'Crest elevation',xAxisIndex:0,yAxisIndex:0,data:redPts,symbolSize:[3.6,5.6],
     itemStyle:{color:RED,opacity:1},silent:true},
    {type:'scatter',name:'Boulder height',xAxisIndex:0,yAxisIndex:1,data:blackPts,symbolSize:[3.6,6],
     itemStyle:{color:'#0a0a0a',opacity:1},silent:true}
  ]
});
</script></body></html>
